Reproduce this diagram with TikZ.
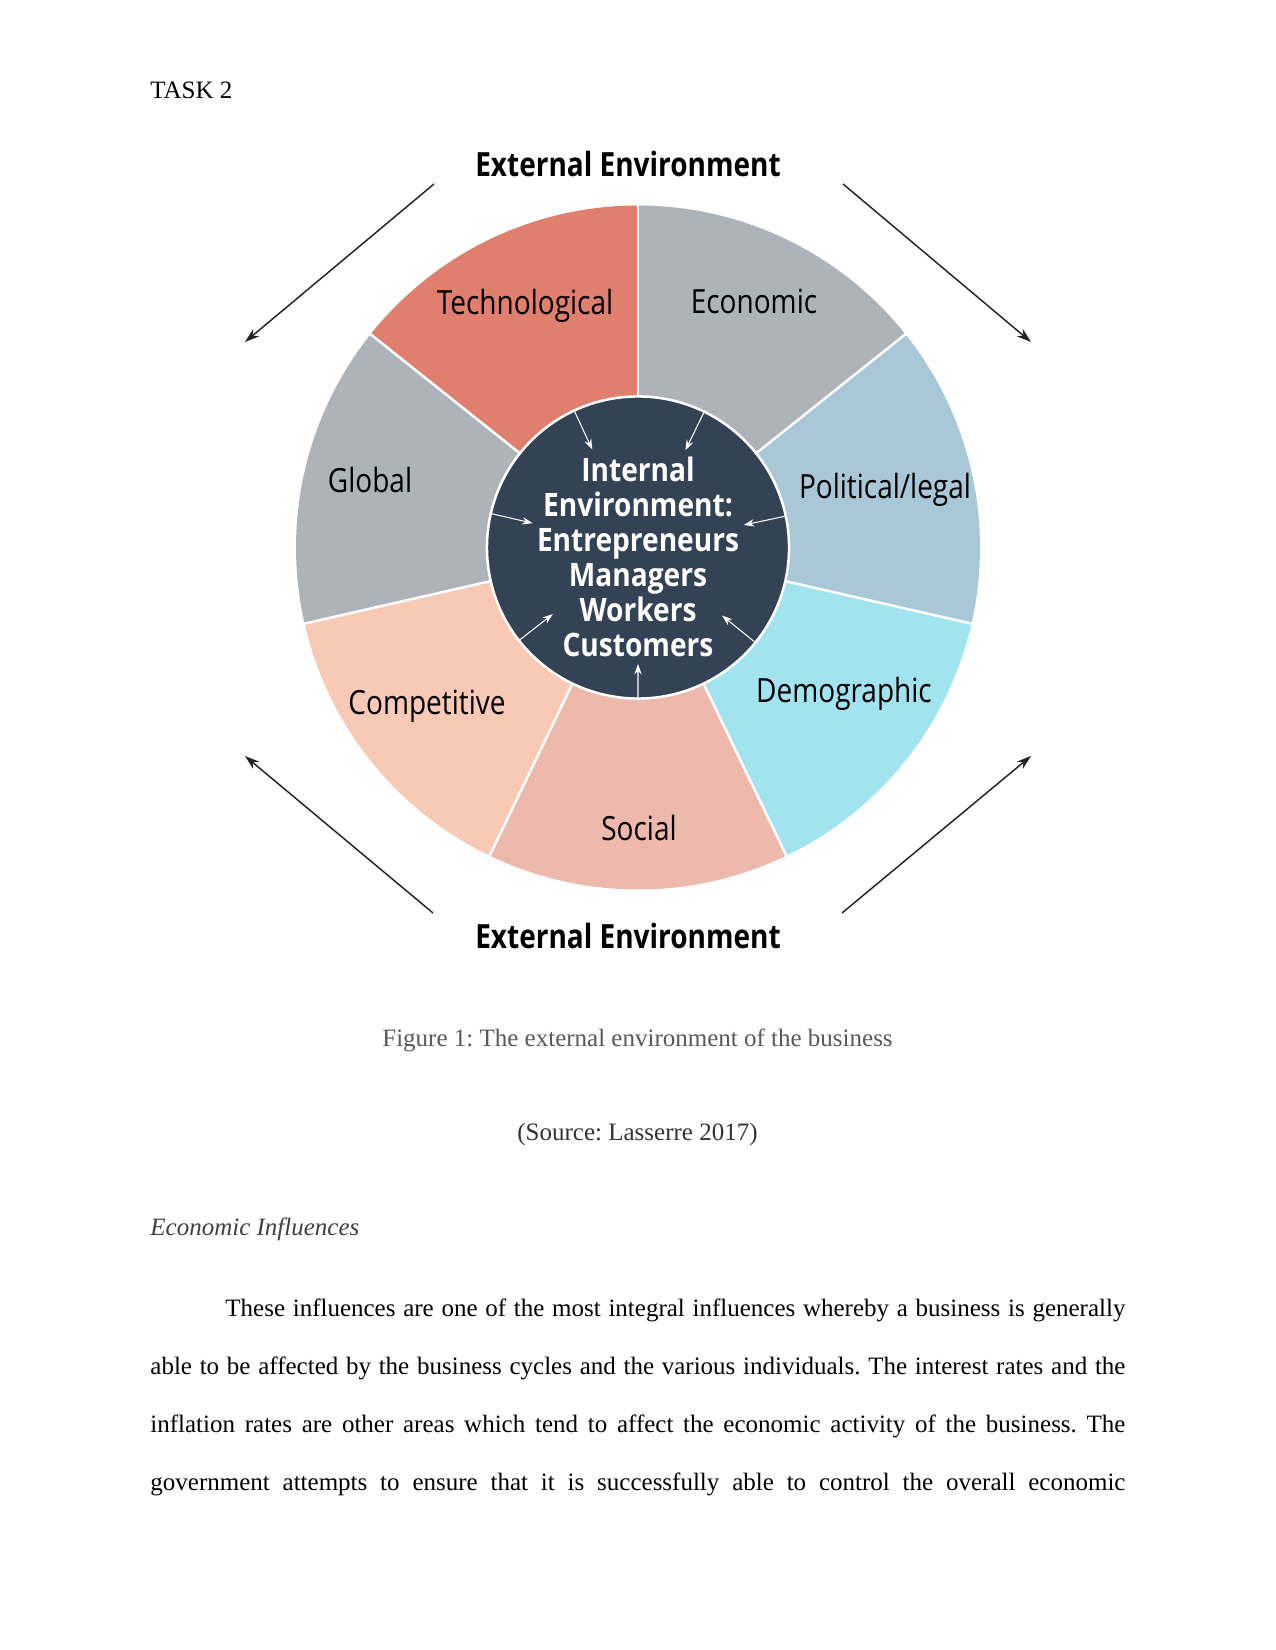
\documentclass[tikz,border=0pt]{standalone}
\usepackage{fontspec}
\usepackage{graphicx}
\setmainfont{Liberation Serif}
\newfontfamily\osans{Open Sans}
\usetikzlibrary{arrows.meta,calc}
\frenchspacing
\definecolor{ctech}{HTML}{E17F6E}
\definecolor{cecon}{HTML}{AEB2B9}
\definecolor{cglob}{HTML}{AEB2B9}
\definecolor{cpol}{HTML}{A8C7D7}
\definecolor{cdem}{HTML}{A1E4EF}
\definecolor{csoc}{HTML}{EDB9AD}
\definecolor{ccomp}{HTML}{F8CAB5}
\definecolor{cinner}{HTML}{344255}
\definecolor{cdark}{HTML}{222222}
\definecolor{ccap}{HTML}{595959}
\newcommand\sq[1]{\scalebox{0.84}[1]{#1}}
\newcommand\sqin[1]{\scalebox{0.87}[1]{#1}}
\tikzset{
  lab/.style={font=\osans\fontsize{16}{19}\selectfont, inner sep=0pt, text=black},
  extlab/.style={font=\osans\bfseries\fontsize{16}{19}\selectfont, inner sep=0pt, text=black},
  inlab/.style={font=\osans\bfseries\fontsize{15.5}{16.7}\selectfont, inner sep=0pt, text=white},
  innercirc/.style={circle, fill=cinner, draw=white, line width=1.2pt, minimum size=145pt, inner sep=0pt},
  inarrow/.style={white, line width=0.5pt, -{Stealth[length=5pt,width=3.5pt]}},
  outarrow/.style={cdark, line width=0.7pt, -{Stealth[length=7pt,width=4.5pt]}},
  sep/.style={white, line width=1.2pt},
  page/.style={inner sep=0pt, font=\fontsize{12}{14}\selectfont},
}
\begin{document}
\begin{tikzpicture}[x=0.48pt,y=-0.48pt]
\useasboundingbox (0,0) rectangle (1275,1650);
\fill[white] (0,0) rectangle (1275,1650);

% wedges (y up inside scope)
\begin{scope}[shift={(638,547.5)}, y=0.48pt]
  \def\R{342}
  \fill[ctech] (0,0) -- (90:\R) arc[start angle=90, end angle=141.43, radius=\R] -- cycle;
  \fill[cglob] (0,0) -- (141.43:\R) arc[start angle=141.43, end angle=192.86, radius=\R] -- cycle;
  \fill[ccomp] (0,0) -- (192.86:\R) arc[start angle=192.86, end angle=244.29, radius=\R] -- cycle;
  \fill[csoc] (0,0) -- (244.29:\R) arc[start angle=244.29, end angle=295.71, radius=\R] -- cycle;
  \fill[cdem] (0,0) -- (295.71:\R) arc[start angle=295.71, end angle=347.14, radius=\R] -- cycle;
  \fill[cpol] (0,0) -- (347.14:\R) arc[start angle=347.14, end angle=398.57, radius=\R] -- cycle;
  \fill[cecon] (0,0) -- (38.57:\R) arc[start angle=38.57, end angle=90, radius=\R] -- cycle;
  \foreach \a in {90,141.43,192.86,244.29,295.71,347.14,38.57}
    \draw[sep] (0,0) -- (\a:\R+2);
\end{scope}

% inner circle
\node[innercirc] (inner) at (638,547.5) {};
\foreach \a in {115.71,167.14,218.57,321.43,12.86,64.29}
  \draw[inarrow] (inner.\a) -- ($(inner.center)!0.71!(inner.\a)$);
\draw[inarrow] (inner.270) -- ($(inner.center)!0.765!(inner.270)$);

\node[inlab] (intext) at (638,562) {\sqin{\begin{tabular}{@{}c@{}}Internal\\Environment:\\Entrepreneurs\\Managers\\Workers\\Customers\end{tabular}}};

% segment labels
\node[lab] (tech) at (525,306) {\sq{Technological}};
\node[lab] (econ) at (754,301) {\sq{Economic}};
\node[lab] (glob) at (370,480) {\sq{Global}};
\node[lab] (pol) at (885,490) {\sq{Political/legal}};
\node[lab] (comp) at (427,706) {\sq{Competitive}};
\node[lab] (dem) at (844,694) {\sq{Demographic}};
\node[lab] (soc) at (639,828) {\sq{Social}};

% external environment
\node[extlab] (exttop) at (628,164) {\sq{External Environment}};
\node[extlab] (extbot) at (628,936) {\sq{External Environment}};

\coordinate (tlS) at (434,184); \coordinate (tlE) at (245,342);
\coordinate (trS) at (843,184); \coordinate (trE) at (1031,342);
\coordinate (blS) at (433,913); \coordinate (blE) at (245,756);
\coordinate (brS) at (842,913); \coordinate (brE) at (1031,756);
\draw[outarrow] (tlS) -- (tlE);
\draw[outarrow] (trS) -- (trE);
\draw[outarrow] (blS) -- (blE);
\draw[outarrow] (brS) -- (brE);

% page text
\node[page, anchor=base west] (task) at (150,99) {TASK 2};
\node[page, anchor=base, text=ccap] (cap) at (637.5,1046) {Figure 1: The external environment of the business};
\node[page, anchor=base, text=black!80] (src) at (637.5,1140) {(Source: Lasserre 2017)};
\node[page, anchor=base west, text=black!75, font=\fontsize{12}{14}\selectfont\itshape] (head) at (150,1235) {Economic Influences};
\node[page, anchor=base west] (l1) at (150,1316) {\hbox to 468pt{\hspace*{36pt}These influences are one of the most integral influences whereby a business is generally}};
\node[page, anchor=base west] (l2) at (150,1374) {\hbox to 468pt{able to be affected by the business cycles and the various individuals. The interest rates and the}};
\node[page, anchor=base west] (l3) at (150,1432) {\hbox to 468pt{inflation rates are other areas which tend to affect the economic activity of the business. The}};
\node[page, anchor=base west] (l4) at (150,1490) {\hbox to 468pt{government attempts to ensure that it is successfully able to control the overall economic}};
\end{tikzpicture}
\end{document}
